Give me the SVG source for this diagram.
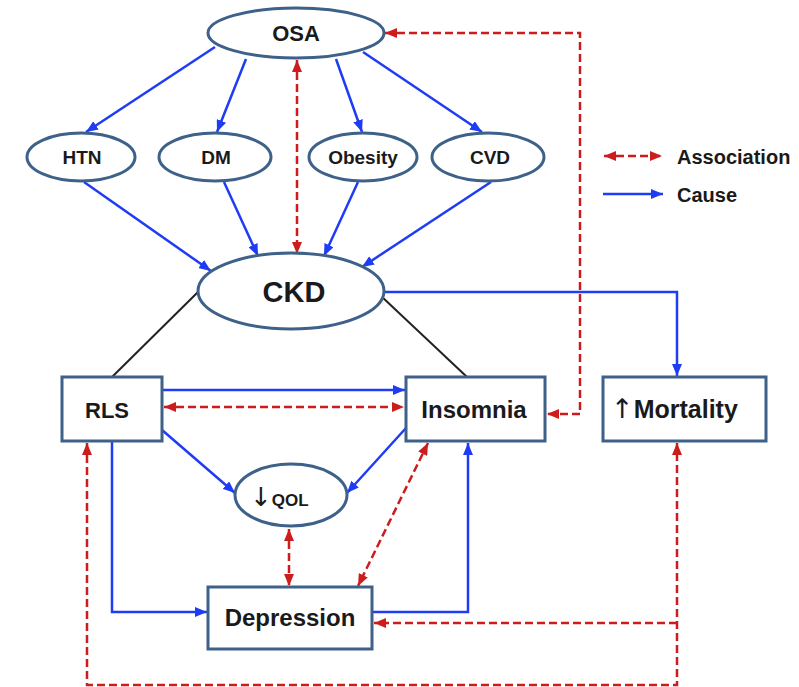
<svg xmlns="http://www.w3.org/2000/svg" width="799" height="687" viewBox="0 0 799 687">
<style>
.node{fill:#fff;stroke:#3e6189;stroke-width:3}
.t{font-family:"Liberation Sans",Arial,sans-serif;font-weight:bold;fill:#1a1a1a;text-anchor:middle}
.arr{font-family:"DejaVu Sans",sans-serif;font-weight:normal}
.cause{fill:none;stroke:#1f3cf5;stroke-width:2.5}
.assoc{fill:none;stroke:#cc1c1c;stroke-width:2.5;stroke-dasharray:8 4}
.plain{fill:none;stroke:#222;stroke-width:2}
</style>
<defs>
<marker id="ab" markerUnits="userSpaceOnUse" markerWidth="13" markerHeight="10" refX="12" refY="5" orient="auto"><path d="M0,0 L12,5 L0,10 z" fill="#1f3cf5"/></marker>
<marker id="ar" markerUnits="userSpaceOnUse" markerWidth="13" markerHeight="10" refX="12" refY="5" orient="auto-start-reverse"><path d="M0,0 L12,5 L0,10 z" fill="#cc1c1c"/></marker>
</defs>
<rect width="799" height="687" fill="#fff"/>
<g id="connectors">
<line class="cause" x1="215" y1="47" x2="86" y2="132" marker-end="url(#ab)"/>
<line class="cause" x1="246" y1="59" x2="217" y2="132" marker-end="url(#ab)"/>
<line class="cause" x1="336" y1="59" x2="362" y2="132" marker-end="url(#ab)"/>
<line class="cause" x1="363" y1="52" x2="482" y2="132" marker-end="url(#ab)"/>
<line class="cause" x1="84" y1="182" x2="211" y2="271" marker-end="url(#ab)"/>
<line class="cause" x1="224" y1="182" x2="258" y2="256" marker-end="url(#ab)"/>
<line class="cause" x1="358" y1="182" x2="324" y2="256" marker-end="url(#ab)"/>
<line class="cause" x1="491" y1="182" x2="362" y2="267" marker-end="url(#ab)"/>
<path class="assoc" d="M297,60 V254" marker-start="url(#ar)" marker-end="url(#ar)"/>
<path class="assoc" d="M385,33 H580 V414 H547" marker-start="url(#ar)" marker-end="url(#ar)"/>
<path class="cause" d="M384,292 H677 V376" marker-end="url(#ab)"/>
<line class="plain" x1="198" y1="292" x2="112" y2="377"/>
<line class="plain" x1="381" y1="296" x2="467" y2="377"/>
<path class="cause" d="M163,390 H405" marker-end="url(#ab)"/>
<path class="assoc" d="M164,407 H404" marker-start="url(#ar)" marker-end="url(#ar)"/>
<line class="cause" x1="162" y1="430" x2="235" y2="493" marker-end="url(#ab)"/>
<line class="cause" x1="406" y1="428" x2="347" y2="493" marker-end="url(#ab)"/>
<path class="cause" d="M112,442 V612 H207" marker-end="url(#ab)"/>
<path class="cause" d="M372,612 H468 V443" marker-end="url(#ab)"/>
<path class="assoc" d="M289,529 V586" marker-start="url(#ar)" marker-end="url(#ar)"/>
<line class="assoc" x1="428" y1="443" x2="358" y2="586" marker-start="url(#ar)" marker-end="url(#ar)"/>
<path class="assoc" d="M87,443 V685 H677 V443" marker-start="url(#ar)" marker-end="url(#ar)"/>
<path class="assoc" d="M677,623 H374" marker-end="url(#ar)"/>
</g>
<g id="OSA"><ellipse class="node" cx="296" cy="33" rx="88" ry="25"/><text class="t" x="296" y="41" font-size="22">OSA</text></g>
<g id="HTN"><ellipse class="node" cx="81" cy="157" rx="54" ry="24"/><text class="t" x="82" y="164" font-size="19">HTN</text></g>
<g id="DM"><ellipse class="node" cx="215" cy="157" rx="56" ry="24"/><text class="t" x="216" y="164" font-size="19">DM</text></g>
<g id="Obesity"><ellipse class="node" cx="363" cy="157" rx="54" ry="24"/><text class="t" x="363" y="164" font-size="19">Obesity</text></g>
<g id="CVD"><ellipse class="node" cx="488" cy="157" rx="56" ry="24"/><text class="t" x="490" y="164" font-size="19">CVD</text></g>
<g id="CKD"><ellipse class="node" cx="291" cy="291" rx="93" ry="38"/><text class="t" x="294" y="302" font-size="29">CKD</text></g>
<g id="RLS"><rect class="node" x="62" y="377" width="100" height="64"/><text class="t" x="107" y="418" font-size="22">RLS</text></g>
<g id="Insomnia"><rect class="node" x="406" y="377" width="139" height="64"/><text class="t" x="474" y="418" font-size="24">Insomnia</text></g>
<g id="Mortality"><rect class="node" x="603" y="377" width="163" height="64"/><text class="t" x="611" y="418" font-size="25" style="text-anchor:start"><tspan class="arr" font-size="27">↑</tspan><tspan>Mortality</tspan></text></g>
<g id="QOL"><ellipse class="node" cx="291" cy="495" rx="56" ry="31"/><text class="t" x="250" y="506" style="text-anchor:start"><tspan class="arr" font-size="26">↓</tspan><tspan font-size="17">QOL</tspan></text></g>
<g id="Depression"><rect class="node" x="208" y="587" width="164" height="62"/><text class="t" x="290" y="626" font-size="24">Depression</text></g>
<g id="legend">
<path class="assoc" d="M604,156 H662" marker-start="url(#ar)" marker-end="url(#ar)"/>
<text class="t" x="677" y="164" font-size="20" style="text-anchor:start">Association</text>
<path class="cause" d="M603,194 H663" marker-end="url(#ab)"/>
<text class="t" x="677" y="202" font-size="20" style="text-anchor:start">Cause</text>
</g>
</svg>
